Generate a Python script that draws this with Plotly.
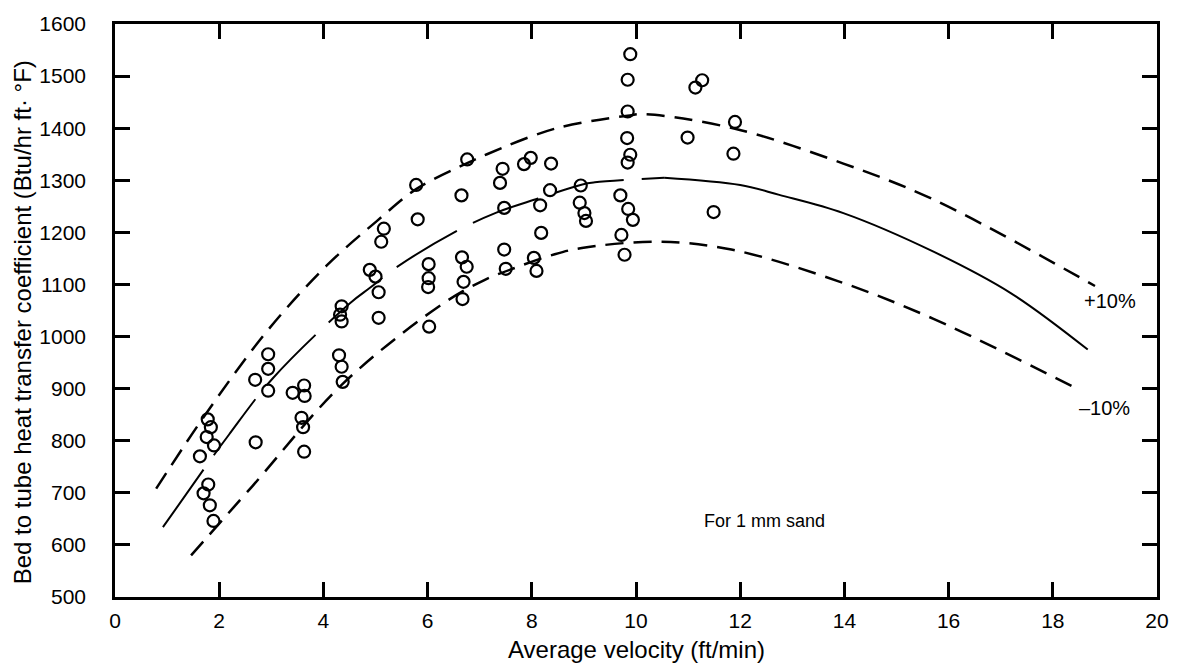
import plotly.graph_objects as go

# ---- measured data (average velocity ft/min, heat transfer coefficient) ----
velocity = [1.78, 1.84, 1.76, 1.90, 1.63, 1.79, 1.70, 1.82, 1.89,
            2.94, 2.94, 2.69, 2.94, 2.70,
            3.41, 3.63, 3.64, 3.58, 3.61, 3.63,
            4.30, 4.35, 4.37, 4.35, 4.32, 4.35,
            5.16, 5.11, 4.89, 5.00, 5.06, 5.06,
            5.78, 5.81, 6.02, 6.02, 6.01, 6.03,
            6.76, 6.65, 6.66, 6.75, 6.69, 6.67,
            7.44, 7.39, 7.47, 7.47, 7.50,
            7.85, 7.98,
            8.37, 8.35, 8.16, 8.18, 8.04, 8.09,
            8.94, 8.92, 9.01, 9.04,
            9.89, 9.84, 9.84, 9.83, 9.89, 9.84, 9.70, 9.85, 9.94, 9.72, 9.78,
            11.27, 11.14, 10.99, 11.49,
            11.90, 11.87]
coefficient = [841, 826, 807, 791, 770, 716, 699, 676, 646,
               966, 938, 917, 896, 797,
               892, 906, 886, 844, 826, 779,
               964, 942, 913, 1058, 1042, 1029,
               1207, 1182, 1128, 1115, 1085, 1036,
               1291, 1225, 1139, 1112, 1095, 1019,
               1340, 1271, 1152, 1134, 1105, 1072,
               1322, 1295, 1247, 1167, 1130,
               1331, 1343,
               1332, 1281, 1252, 1199, 1151, 1126,
               1290, 1257, 1237, 1222,
               1542, 1493, 1432, 1381, 1349, 1334, 1271, 1245, 1224, 1195, 1157,
               1492, 1478, 1382, 1239,
               1412, 1351]

# ---- fitted curve and +/-10% band ----
fit_x = [0.92, 1.81, 2.19, 3.03, 4.51, 4.90, 5.36, 6.51, 7.32, 8.12, 8.97, 9.21,
         10.54, 12.0, 12.75, 13.98, 15.71, 17.2, 18.67]
fit_y = [634, 760, 812, 920, 1064, 1094, 1130, 1200, 1238, 1265, 1292, 1296,
         1305, 1291, 1272, 1237, 1163, 1083, 975]
upper_x = [0.79, 1.81, 2.94, 4.06, 5.03, 5.78, 6.76, 7.14, 8.44, 9.84, 10.16,
           11.90, 13.98, 15.71, 18.81]
upper_y = [708, 861, 1013, 1136, 1222, 1283, 1333, 1350, 1399, 1424, 1427,
           1399, 1332, 1263, 1097]
lower_x = [1.46, 2.63, 4.39, 6.32, 7.08, 7.71, 8.44, 8.96, 10.41, 11.83, 13.86,
           15.71, 18.48]
lower_y = [580, 712, 911, 1065, 1108, 1133, 1158, 1170, 1182, 1167, 1107,
           1034, 899]

x_ticks = [0, 2, 4, 6, 8, 10, 12, 14, 16, 18, 20]
y_ticks = [500, 600, 700, 800, 900, 1000, 1100, 1200, 1300, 1400, 1500, 1600]

split = fit_x.index(10.54)

fig = go.Figure()
fig.add_trace(go.Scatter(x=upper_x, y=upper_y, mode="lines", line_shape="spline",
                         line=dict(color="black", width=2.5, dash="18px,10px")))
fig.add_trace(go.Scatter(x=lower_x, y=lower_y, mode="lines", line_shape="spline",
                         line=dict(color="black", width=2.5, dash="18px,10px")))
fig.add_trace(go.Scatter(x=fit_x[:split + 1], y=fit_y[:split + 1], mode="lines",
                         line_shape="spline",
                         line=dict(color="black", width=2, dash="70px,18px")))
fig.add_trace(go.Scatter(x=fit_x[split:], y=fit_y[split:], mode="lines",
                         line_shape="spline", line=dict(color="black", width=2)))
fig.add_trace(go.Scatter(x=velocity, y=coefficient, mode="markers",
                         marker=dict(symbol="circle-open", size=12, color="black",
                                     line=dict(width=2.2, color="black"))))

font_main = "Liberation Sans, Arial, Helvetica, sans-serif"

fig.update_layout(
    width=1181, height=669,
    margin=dict(l=115, r=13, t=19, b=72),
    paper_bgcolor="white", plot_bgcolor="white",
    showlegend=False,
    font=dict(family=font_main, color="black"),
    xaxis=dict(range=[0, 20], tickvals=x_ticks, ticktext=[str(v) for v in x_ticks],
               showgrid=False, zeroline=False, showline=True, linecolor="black",
               linewidth=2.5, mirror="allticks", ticks="inside", ticklen=15,
               tickwidth=2.5, tickcolor="black",
               tickfont=dict(family=font_main, size=21, color="black"),
               ticklabelstandoff=3),
    yaxis=dict(range=[500, 1600], tickvals=y_ticks, ticktext=[str(v) for v in y_ticks],
               showgrid=False, zeroline=False, showline=True, linecolor="black",
               linewidth=2.5, mirror="allticks", ticks="inside", ticklen=15,
               tickwidth=2.5, tickcolor="black",
               tickfont=dict(family=font_main, size=21, color="black"),
               ticklabelstandoff=22),
    annotations=[
        dict(text="Average velocity (ft/min)", xref="paper", yref="paper",
             x=0.5, y=-0.092, xanchor="center", yanchor="middle", showarrow=False,
             font=dict(family=font_main, size=24, color="black")),
        dict(text="Bed to tube heat transfer coefficient (Btu/hr ft\u00b7 \u00b0F)",
             xref="paper", yref="paper", x=-0.088, y=0.48, textangle=-90,
             xanchor="center", yanchor="middle", showarrow=False,
             font=dict(family=font_main, size=24, color="black")),
        dict(text="For 1 mm sand", x=12.47, y=646, xanchor="center", yanchor="middle",
             showarrow=False, font=dict(family=font_main, size=18, color="black")),
        dict(text="+10%", x=18.56, y=1068, xanchor="left", yanchor="middle",
             showarrow=False, font=dict(family=font_main, size=20, color="black")),
        dict(text="\u201310%", x=18.46, y=863, xanchor="left", yanchor="middle",
             showarrow=False, font=dict(family=font_main, size=20, color="black")),
    ],
)

fig.write_html("out.html")
